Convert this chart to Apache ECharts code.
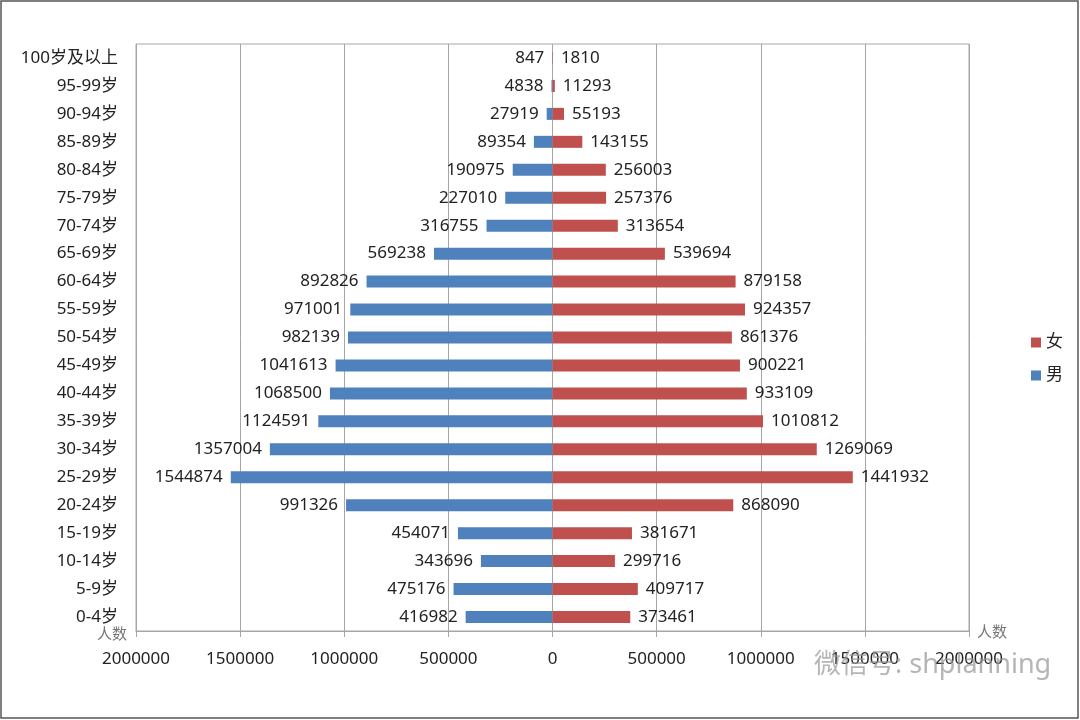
<!DOCTYPE html>
<html><head><meta charset="utf-8">
<script src="https://cdn.jsdelivr.net/npm/echarts@6/dist/echarts.min.js"></script>
<style>html,body{margin:0;padding:0;background:#fff}#c{width:1080px;height:720px}</style>
</head><body><div id="c"></div>
<script>
const categories = ['0-4岁','5-9岁','10-14岁','15-19岁','20-24岁','25-29岁','30-34岁','35-39岁','40-44岁','45-49岁','50-54岁','55-59岁','60-64岁','65-69岁','70-74岁','75-79岁','80-84岁','85-89岁','90-94岁','95-99岁','100岁及以上'];
const male = [416982,475176,343696,454071,991326,1544874,1357004,1124591,1068500,1041613,982139,971001,892826,569238,316755,227010,190975,89354,27919,4838,847];
const female = [373461,409717,299716,381671,868090,1441932,1269069,1010812,933109,900221,861376,924357,879158,539694,313654,257376,256003,143155,55193,11293,1810];
const xTicks = [-2000000,-1500000,-1000000,-500000,0,500000,1000000,1500000,2000000];

const FONT = '"Noto Sans","Noto Sans CJK SC",sans-serif';
const chart = echarts.init(document.getElementById('c'), null, {renderer:'canvas'});
chart.setOption({
  animation:false,
  backgroundColor:'#fff',
  textStyle:{fontFamily:FONT},
  grid:{left:136,right:111,top:44,bottom:89,show:true,borderColor:'#a6a6a6',borderWidth:1,backgroundColor:'transparent'},
  legend:{
    data:['女','男'], orient:'vertical', right:12, top:329,
    itemWidth:10, itemHeight:10, itemGap:16, icon:'rect',
    textStyle:{fontSize:17,color:'#222',fontFamily:FONT}
  },
  xAxis:{
    type:'value', min:xTicks[0], max:xTicks[xTicks.length-1], interval:500000,
    axisLine:{show:true,lineStyle:{color:'#a6a6a6'}},
    axisTick:{show:true,length:6,lineStyle:{color:'#a6a6a6'}},
    splitLine:{show:true,lineStyle:{color:'#a6a6a6',width:1}},
    axisLabel:{margin:20,fontSize:17,color:'#222',fontFamily:FONT,formatter:v=>String(Math.abs(v))}
  },
  yAxis:{
    type:'category', data:categories,
    axisLine:{show:false}, axisTick:{show:false},
    axisLabel:{margin:18,fontSize:17,color:'#222',fontFamily:FONT}
  },
  series:[
    {name:'男',type:'bar',stack:'t',barWidth:12,itemStyle:{color:'#4f81bd'},
     data:male.map(v=>-v),
     label:{show:true,position:'left',distance:8,fontSize:17,color:'#222',fontFamily:FONT,formatter:p=>String(Math.abs(p.value))}},
    {name:'女',type:'bar',stack:'t',barWidth:12,itemStyle:{color:'#c0504d'},
     data:female,
     label:{show:true,position:'right',distance:8,fontSize:17,color:'#222',fontFamily:FONT}}
  ],
  graphic:[
    {type:'rect',shape:{x:1,y:1,width:1077,height:717},style:{fill:'none',stroke:'#555',lineWidth:1.5},silent:true},
    {type:'text',left:97,top:627,style:{text:'人数',fontSize:15,fill:'#777',fontFamily:FONT}},
    {type:'text',left:977,top:625,style:{text:'人数',fontSize:15,fill:'#777',fontFamily:FONT}},
    {type:'text',left:814,top:652,z:100,style:{text:'微信号: shplanning',fontSize:27,fill:'rgba(150,150,150,0.7)',fontFamily:FONT}}
  ]
});
</script></body></html>
